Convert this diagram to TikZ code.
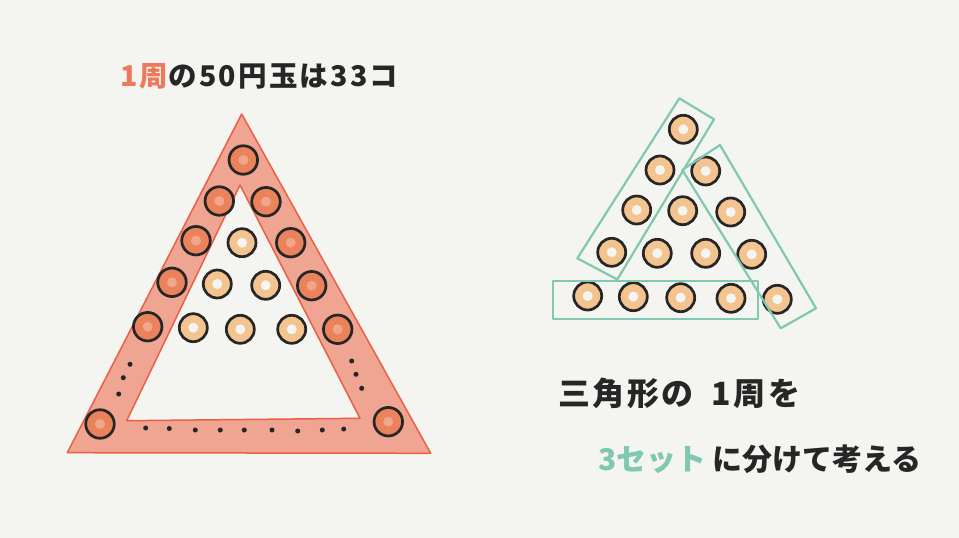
\documentclass[tikz,border=0pt]{standalone}
\usepackage{fontspec}
\newfontfamily\jp{Noto Sans CJK JP}
\newfontfamily\jpw{Noto Sans CJK JP}[LetterSpace=8]
\definecolor{bg}{RGB}{244,244,240}
\definecolor{bandfill}{RGB}{240,164,146}
\definecolor{bandline}{RGB}{234,96,70}
\definecolor{coinA}{RGB}{234,130,92}
\definecolor{coinAc}{RGB}{241,166,140}
\definecolor{coinB}{RGB}{243,196,143}
\definecolor{ink}{RGB}{38,38,38}
\definecolor{titlered}{RGB}{237,120,92}
\definecolor{setgreen}{RGB}{128,200,178}
\tikzset{
  coinband/.style={circle, draw=ink, line width=2.7pt, fill=coinA, minimum size=28.5pt, inner sep=0pt,
    path picture={\fill[coinAc] (path picture bounding box.center) circle (5pt);}},
  coinin/.style={circle, draw=ink, line width=2.7pt, fill=coinB, minimum size=28pt, inner sep=0pt,
    path picture={\fill[bg] (path picture bounding box.center) circle (5pt);}},
  dotmark/.style={circle, fill=ink, inner sep=0pt, minimum size=5pt},
  setbox/.style={draw=setgreen, line width=2.2pt, line join=round},
  txt/.style={font=\jpw\bfseries\fontsize{30}{30}\selectfont, text=ink, anchor=west, inner sep=0pt}
}
\begin{document}
\begin{tikzpicture}[x=1pt,y=-1pt]
\fill[bg] (0,0) rectangle (959,538);
\useasboundingbox (0,0) rectangle (959,538);

% title
\node[txt, font=\jpw\bfseries\fontsize{28.5}{28.5}\selectfont] (title) at (120,76) {\textcolor{titlered}{1周}の50円玉は33コ};

% band triangle
\coordinate (oA) at (241.7,114);
\coordinate (oB) at (67.3,452.7);
\coordinate (oC) at (430.7,453.3);
\coordinate (iA) at (240,185);
\coordinate (iB) at (126.7,420.7);
\coordinate (iC) at (360,418.3);
\fill[bandfill, even odd rule] (oA) -- (oB) -- (oC) -- cycle (iA) -- (iB) -- (iC) -- cycle;
\draw[bandline, line width=1.5pt, line join=round] (oA) -- (oB) -- (oC) -- cycle;
\draw[bandline, line width=1.5pt, line join=round] (iA) -- (iB) -- (iC) -- cycle;

% band coins
\node[coinband] (b1) at (243.3,160) {};
\node[coinband] (b2) at (219.3,201) {};
\node[coinband] (b3) at (266,201.7) {};
\node[coinband] (b4) at (196,240.7) {};
\node[coinband] (b5) at (290.7,242.7) {};
\node[coinband] (b6) at (172,282.3) {};
\node[coinband] (b7) at (311.7,285.7) {};
\node[coinband] (b8) at (147.7,326.7) {};
\node[coinband] (b9) at (337.7,329.3) {};
\node[coinband] (b10) at (100,424) {};
\node[coinband] (b11) at (388.3,421.7) {};

% inner coins
\node[coinin] (c1) at (242,242.7) {};
\node[coinin] (c2) at (217.3,284) {};
\node[coinin] (c3) at (265.7,285.3) {};
\node[coinin] (c4) at (193.3,327.7) {};
\node[coinin] (c5) at (240.3,329.3) {};
\node[coinin] (c6) at (291.7,329.3) {};

% dots
\node[dotmark] (dl1) at (130,364.3) {};
\node[dotmark] (dl2) at (123.3,377.7) {};
\node[dotmark] (dl3) at (118.7,394) {};
\node[dotmark] (dr1) at (351.7,361) {};
\node[dotmark] (dr2) at (356,374.3) {};
\node[dotmark] (dr3) at (361.7,388.3) {};
\foreach \x/\y [count=\i] in {145.7/428,169.3/428.5,195.3/430,220.3/430,244.3/430,272/430,297.7/431,322.3/430,343.7/429}
  \node[dotmark] (db\i) at (\x,\y) {};

% right triangle coins
\node[coinin] (r1) at (683.3,129.3) {};
\node[coinin] (r2) at (660,170) {};
\node[coinin] (r3) at (705.7,171) {};
\node[coinin] (r4) at (636.7,210) {};
\node[coinin] (r5) at (682.7,210.7) {};
\node[coinin] (r6) at (730.7,212) {};
\node[coinin] (r7) at (611.7,252.3) {};
\node[coinin] (r8) at (657.3,253.3) {};
\node[coinin] (r9) at (705.7,253.3) {};
\node[coinin] (r10) at (751.7,254.3) {};
\node[coinin] (r11) at (587.7,296) {};
\node[coinin] (r12) at (633.3,296.7) {};
\node[coinin] (r13) at (680.7,297.7) {};
\node[coinin] (r14) at (731,298.3) {};
\node[coinin] (r15) at (777.3,299.3) {};

% set boxes
\draw[setbox] (553.3,280.7) rectangle (758.3,319.3);
\draw[setbox] (679.3,98.3) -- (714,119.3) -- (617.3,279.5) -- (577.3,258.3) -- cycle;
\draw[setbox] (682.3,170) -- (720,145) -- (816,308.3) -- (780.7,328.3) -- cycle;

% right texts
\node[txt, font=\jpw\bfseries\fontsize{32}{32}\selectfont] (line1) at (558,393) {三角形の\hspace{0.55em}1周を};
\node[txt, font=\jp\bfseries\fontsize{30}{30}\selectfont] (line2) at (598,459) {\textcolor{setgreen}{3セット}\hspace{0.2em}に分けて考える};
\end{tikzpicture}
\end{document}
